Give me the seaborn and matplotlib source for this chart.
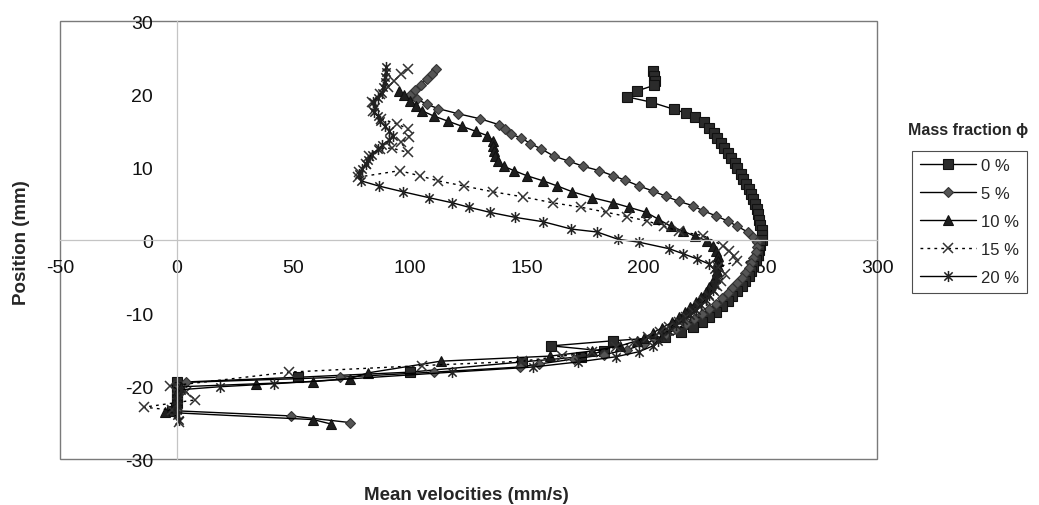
import matplotlib
matplotlib.use("Agg")
import matplotlib.pyplot as plt
import seaborn as sns
from matplotlib.path import Path
from matplotlib.patches import Rectangle

# mean velocity (mm/s) and position (mm), one pair per mass fraction
vel_0 = [204, 204.5, 205, 204.5, 197, 193, 203, 213, 218, 222, 226, 228, 230, 231.5, 233,
         234.5, 236, 237.5, 239, 240, 241.5, 242.5, 244, 245, 246, 247, 247.5, 248.5, 249, 249.5,
         250, 250.5, 250.5, 250.5, 250, 249.5, 249, 248, 247, 246, 245, 243.5, 242, 240, 238,
         236, 233.5, 231, 228, 225, 221, 216, 209, 187, 160.5, 183, 173, 148, 100, 52,
         0, 0, 0, 0, 0, -0.5, -2]
pos_0 = [23.1, 22.5, 21.8, 21.2, 20.4, 19.6, 18.9, 17.9, 17.4, 16.8, 16.1, 15.4, 14.7, 14.0, 13.3,
         12.6, 11.9, 11.2, 10.5, 9.8, 9.1, 8.4, 7.7, 7.0, 6.3, 5.6, 4.9, 4.2, 3.5, 2.8,
         2.1, 1.4, 0.7, 0.0, -0.7, -1.4, -2.1, -2.8, -3.5, -4.2, -4.9, -5.6, -6.3, -7.0, -7.7,
         -8.4, -9.1, -9.8, -10.5, -11.2, -11.9, -12.6, -13.3, -13.8, -14.5, -15.2, -16.0, -16.7, -18.1, -18.8,
         -19.5, -20.2, -20.9, -21.6, -22.3, -23.0, -23.4]

vel_5 = [111, 109.5, 107, 104.5, 102, 100, 103, 107, 112, 120.5, 130, 138, 140.5, 143, 147.5,
         151.5, 156, 161.5, 168, 174, 181, 187, 192, 198, 204, 209.5, 215, 221, 225.5, 231,
         236, 240, 244.5, 247, 248.5, 248.5, 248, 247, 246, 245, 243.5, 242, 240, 238, 236,
         233.5, 231, 228, 225, 221.5, 218, 214, 209.5, 205, 200, 193, 183, 170, 155, 147,
         110, 70, 4, 0.5, 0, 0, 0, 0, 0, 49, 74]
pos_5 = [23.4, 22.7, 22.0, 21.3, 20.6, 19.9, 19.3, 18.6, 18.0, 17.3, 16.6, 15.8, 15.2, 14.5, 14.0,
         13.2, 12.5, 11.5, 10.8, 10.1, 9.5, 8.8, 8.2, 7.4, 6.7, 6.0, 5.3, 4.7, 4.0, 3.3,
         2.6, 1.9, 1.1, 0.4, -0.3, -1.0, -1.7, -2.4, -3.1, -3.8, -4.5, -5.2, -5.9, -6.6, -7.3,
         -8.0, -8.7, -9.4, -10.1, -10.8, -11.5, -12.2, -12.9, -13.6, -14.3, -15.0, -15.7, -16.3, -17.0, -17.4,
         -18.1, -18.8, -19.5, -20.2, -20.9, -21.6, -22.3, -23.0, -23.4, -24.1, -25.0]

vel_10 = [95, 97.5, 100, 102.5, 105, 110, 116, 122, 128, 133, 135.5, 135.5, 136, 136.5, 137.5,
          140, 144.5, 150, 157, 163, 169.5, 178, 187, 193.5, 201, 206, 211.5, 217, 222, 227,
          229.5, 231, 232, 232, 232, 231.5, 230.5, 229.5, 228, 226.5, 224.5, 222.5, 220, 217.5, 215,
          212, 208, 204, 200, 197, 190, 178, 160, 113, 82, 74, 58.5, 34, 2, 0,
          0, 0, -1, -5, 58.5, 66]
pos_10 = [20.4, 19.8, 19.1, 18.4, 17.7, 17.0, 16.3, 15.6, 14.9, 14.3, 13.6, 12.9, 12.2, 11.5, 10.8,
          10.1, 9.5, 8.8, 8.1, 7.4, 6.6, 5.8, 5.1, 4.5, 3.8, 2.9, 1.9, 1.2, 0.5, -0.1,
          -0.8, -1.5, -2.2, -2.9, -3.6, -4.3, -5.0, -5.7, -6.4, -7.1, -7.8, -8.5, -9.2, -9.9, -10.6,
          -11.3, -12.0, -12.7, -13.4, -13.8, -14.5, -15.2, -15.9, -16.6, -18.2, -19.0, -19.4, -19.7, -20.1, -20.8,
          -21.5, -22.2, -22.9, -23.6, -24.6, -25.2]

vel_15 = [99, 96, 93, 90.5, 87, 83.5, 84, 87.5, 94.5, 99, 99.5, 96, 99, 92, 87,
          82.5, 81, 78, 77.5, 95.5, 104, 112, 123, 135.5, 148.5, 161, 173, 184, 193, 201.5,
          208.5, 215, 225.5, 234, 236.5, 238.5, 240, 232, 235, 233, 231.5, 230, 228, 226, 223.5,
          221, 218, 215, 211, 207, 202, 196, 188, 178, 165, 148, 105, 48, -3, 4,
          8, -14, -2, 1]
pos_15 = [23.4, 22.7, 21.8, 20.9, 20.0, 18.9, 17.7, 16.6, 15.9, 15.2, 14.1, 13.4, 12.0, 12.6, 12.5,
          11.5, 10.4, 9.3, 8.6, 9.5, 8.8, 8.1, 7.4, 6.6, 5.9, 5.1, 4.5, 3.8, 3.2, 2.6,
          1.9, 1.2, 0.6, -0.8, -1.5, -2.2, -2.9, -3.7, -4.7, -5.6, -6.3, -7.0, -7.7, -8.4, -9.1,
          -9.8, -10.5, -11.2, -11.9, -12.6, -13.3, -14.0, -14.7, -15.4, -15.9, -16.6, -17.2, -18.1, -20.0, -20.8,
          -21.9, -22.9, -23.3, -24.9]

vel_20 = [89.5, 89.5, 89, 89, 88.5, 88, 86, 84, 85, 84.5, 86, 87, 89, 91, 92.5,
          91, 88, 86, 83.5, 82, 81, 79.5, 78, 79, 86.5, 97, 108, 118, 125, 134,
          145, 157, 169, 180, 189, 198, 211, 217, 223, 228, 230, 231, 231, 230.5, 229.5,
          228, 226.5, 224.5, 222.5, 220, 217, 214, 211, 208, 206, 204, 198, 188, 172, 152.5,
          118, 41.5, 18.5, 2, 0, 0, 0, 0, 0, 1]
pos_20 = [23.7, 23.0, 22.3, 21.6, 20.9, 20.2, 19.5, 18.9, 18.2, 17.5, 17.0, 16.3, 15.6, 15.0, 14.3,
          13.7, 13.0, 12.4, 11.7, 11.0, 10.4, 9.7, 9.0, 8.1, 7.4, 6.6, 5.8, 5.1, 4.5, 3.8,
          3.1, 2.5, 1.5, 1.1, 0.1, -0.3, -1.2, -1.9, -2.6, -3.3, -4.0, -4.7, -5.4, -6.1, -6.8,
          -7.5, -8.2, -8.9, -9.6, -10.3, -11.0, -11.7, -12.4, -13.1, -13.8, -14.5, -15.3, -16.0, -16.7, -17.4,
          -18.1, -19.7, -20.1, -20.5, -21.2, -21.9, -22.6, -23.3, -24.0, -24.7]

labels = ["0 %", "5 %", "10 %", "15 %", "20 %"]
x_ticks = [-50, 0, 50, 100, 150, 200, 250, 300]
y_ticks = [-30, -20, -10, 0, 10, 20, 30]

sns.set_style("white")
plt.rcParams["font.family"] = ["Liberation Sans", "DejaVu Sans"]
plt.rcParams["axes.unicode_minus"] = False

# excel style asterisk: vertical bar plus an x
asterisk = Path([(0, -1), (0, 1), (-0.75, -0.75), (0.75, 0.75), (-0.75, 0.75), (0.75, -0.75)],
                [Path.MOVETO, Path.LINETO] * 3)

fig = plt.figure(figsize=(10.39, 5.06), dpi=100)
ax = fig.add_axes([0.0577, 0.0909, 0.7866, 0.8656])

sns.lineplot(x=vel_0, y=pos_0, sort=False, estimator=None, ax=ax, label=labels[0],
             color="black", lw=1, marker="s", markersize=7,
             markerfacecolor="#2b2b2b", markeredgecolor="#111111", markeredgewidth=0.8)
sns.lineplot(x=vel_5, y=pos_5, sort=False, estimator=None, ax=ax, label=labels[1],
             color="black", lw=1, marker="D", markersize=5.5,
             markerfacecolor="#555555", markeredgecolor="#333333", markeredgewidth=0.8)
sns.lineplot(x=vel_10, y=pos_10, sort=False, estimator=None, ax=ax, label=labels[2],
             color="black", lw=1, marker="^", markersize=6.5,
             markerfacecolor="#1e1e1e", markeredgecolor="#111111", markeredgewidth=0.8)
sns.lineplot(x=vel_15, y=pos_15, sort=False, estimator=None, ax=ax, label=labels[3],
             color="black", lw=1, linestyle=(0, (2, 3)), marker="x", markersize=7,
             markeredgecolor="#333333", markeredgewidth=1.1)
sns.lineplot(x=vel_20, y=pos_20, sort=False, estimator=None, ax=ax, label=labels[4],
             color="black", lw=1, marker=asterisk, markersize=8,
             markerfacecolor="none", markeredgecolor="#222222", markeredgewidth=1.1)

ax.set_xlim(-50, 300)
ax.set_ylim(-30, 30)
ax.set_xticks(x_ticks)
ax.set_yticks(y_ticks)
ax.set_xlabel("")
ax.set_ylabel("")

# axes cross at zero, like the spreadsheet original
for side in ["top", "right"]:
    ax.spines[side].set_visible(False)
ax.spines["left"].set_position(("data", 0))
ax.spines["bottom"].set_position(("data", 0))
for side in ["left", "bottom"]:
    ax.spines[side].set_color("#c4c4c4")
    ax.spines[side].set_linewidth(0.9)
ax.tick_params(axis="both", direction="out", length=5, width=0.8, color="#b0b0b0",
               labelsize=14, labelcolor="#111111")
ax.tick_params(axis="x", pad=9)
ax.tick_params(axis="y", pad=12)
ax.add_patch(Rectangle((0, 0), 1, 1, transform=ax.transAxes, fill=False,
                       ec="#7a7a7a", lw=1, clip_on=False, zorder=0))

fig.text(0.021, 0.52, "Position (mm)", rotation=90, ha="center", va="center",
         fontsize=13.5, fontweight="bold")
fig.text(0.4485, 0.02, "Mean velocities (mm/s)", ha="center", va="center",
         fontsize=13.5, fontweight="bold")

handles, labs = ax.get_legend_handles_labels()
ax.get_legend().remove()
leg = fig.legend(handles, labs, loc="upper left", bbox_to_anchor=(0.878, 0.70),
                 borderaxespad=0, frameon=True, fancybox=False, edgecolor="#222222",
                 fontsize=12, handlelength=3.4, handletextpad=0.3, labelspacing=0.78,
                 borderpad=0.45)
leg.get_frame().set_linewidth(0.8)
fig.text(0.932, 0.743, "Mass fraction \u03d5", ha="center", va="center",
         fontsize=11.5, fontweight="bold")

plt.savefig("out.png", dpi=100, facecolor="white")
